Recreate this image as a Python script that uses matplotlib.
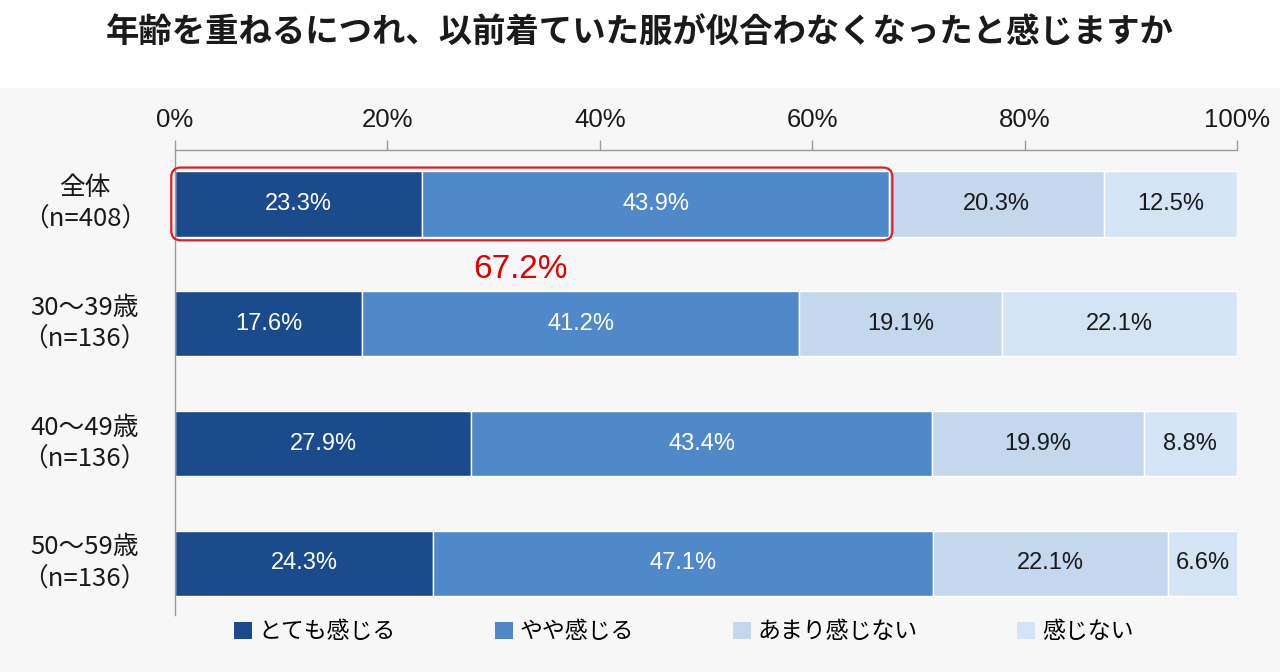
import matplotlib
matplotlib.use("Agg")
import matplotlib.pyplot as plt
from matplotlib.patches import FancyBboxPatch, Rectangle
import numpy as np

plt.rcParams['font.family'] = ['Noto Sans CJK JP', 'DejaVu Sans']
NUM_FONT = ['Liberation Sans', 'DejaVu Sans']

title = "年齢を重ねるにつれ、以前着ていた服が似合わなくなったと感じますか"
categories = ["全体\n（n=408）", "30～39歳\n（n=136）", "40～49歳\n（n=136）", "50～59歳\n（n=136）"]
series_names = ["とても感じる", "やや感じる", "あまり感じない", "感じない"]
very = [23.3, 17.6, 27.9, 24.3]
somewhat = [43.9, 41.2, 43.4, 47.1]
not_much = [20.3, 19.1, 19.9, 22.1]
not_at_all = [12.5, 22.1, 8.8, 6.6]
highlight_total = "67.2%"

colors = ["#1b4b8c", "#5089c9", "#c3d7ed", "#d5e4f4"]
text_colors = ["white", "white", "#1a1a1a", "#1a1a1a"]

fig = plt.figure(figsize=(12.8, 6.72), dpi=100)
fig.patches.append(Rectangle((0, 0), 1, 1 - 88 / 672, transform=fig.transFigure,
                             facecolor="#f7f7f7", edgecolor="none", zorder=-10))
fig.text(0.5, 1 - 33 / 672, title, ha="center", va="center",
         fontsize=24, fontweight="bold", color="#1a1a1a")

ax = fig.add_axes([175 / 1280, 1 - 615 / 672, 1062 / 1280, 465 / 672])
ax.set_facecolor("none")

data = np.array([very, somewhat, not_much, not_at_all])
y = np.arange(len(categories))
left = np.zeros(len(categories))
for i, vals in enumerate(data):
    ax.barh(y, vals, left=left, height=0.545, color=colors[i],
            edgecolor="white", linewidth=1, label=series_names[i])
    for j, v in enumerate(vals):
        ax.text(left[j] + v / 2, y[j], f"{v:.1f}%", ha="center", va="center",
                color=text_colors[i], fontsize=17, family=NUM_FONT)
    left = left + vals

ax.set_xlim(0, 100)
ax.set_ylim(3.43, -0.45)

# red box around the first two segments of 全体
px_x = 1062 / 100
px_y = 465 / (3.43 + 0.45)
top2 = very[0] + somewhat[0]
box = FancyBboxPatch((0, y[0] - 0.545 / 2), top2, 0.545,
                     boxstyle="round,pad=0.35,rounding_size=0.9",
                     mutation_aspect=px_x / px_y,
                     facecolor="none", edgecolor="#e02020", linewidth=1.6,
                     zorder=5, clip_on=False)
ax.add_patch(box)
ax.text(32.5, 0.545, highlight_total, ha="center", va="center",
        color="#e00000", fontsize=24, family=NUM_FONT)

# category labels
for j, c in enumerate(categories):
    ax.text(-0.085, y[j], c, transform=ax.get_yaxis_transform(), ha="center",
            va="center", fontsize=18.5, linespacing=1.3, color="#1a1a1a")
ax.set_yticks([])

ax.xaxis.tick_top()
ax.set_xticks(np.arange(0, 101, 20))
ax.set_xticklabels([f"{t}%" for t in range(0, 101, 20)], family=NUM_FONT,
                   fontsize=18.5, color="#1a1a1a")
ax.tick_params(axis="x", length=7, width=1, color="#9a9a9a", pad=6)
for s in ["right", "bottom"]:
    ax.spines[s].set_visible(False)
for s in ["top", "left"]:
    ax.spines[s].set_color("#9a9a9a")
    ax.spines[s].set_linewidth(1)

handles = [Rectangle((0, 0), 1, 1, facecolor=c, edgecolor="none") for c in colors]
fig.legend(handles, series_names, loc="center", bbox_to_anchor=(0.534, 1 - 632 / 672),
           ncol=4, frameon=False, fontsize=16.5, handlelength=0.8, handleheight=0.8,
           handletextpad=0.3, columnspacing=4.3)

fig.savefig("out.png", dpi=100)
